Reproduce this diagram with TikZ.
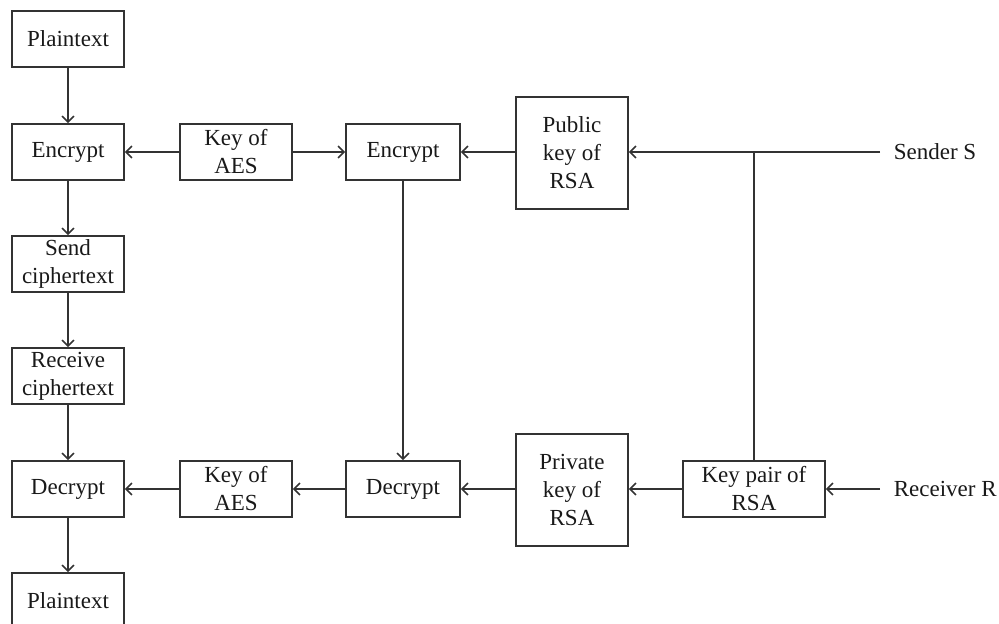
\documentclass[tikz,border=0pt]{standalone}
\usepackage{fontspec}
\setmainfont{Liberation Serif}
\usetikzlibrary{arrows.meta}
\begin{document}
\begin{tikzpicture}[x=1pt,y=-1pt,
  line width=1.6pt,
  color=black!80,
  blk/.style={draw, rectangle, inner sep=0pt, align=center,
    text=black!90, font=\fontsize{23}{28}\selectfont},
  sq/.style={blk, minimum width=112pt, minimum height=56pt},
  tall/.style={blk, minimum width=112pt, minimum height=112pt},
  lbl/.style={anchor=west, inner sep=0pt, text=black!90, font=\fontsize{23}{28}\selectfont},
  arr/.style={-{Straight Barb[length=6pt,width=12pt,line width=1.6pt]}}
]
\useasboundingbox (0,0) rectangle (999,624);
\clip (0,0) rectangle (999,624);

% left column: message flow
\node[sq] (p1)   at (68,39)  {Plaintext};
\node[sq] (enc1) at (68,152) {Encrypt};
\node[sq] (send) at (68,264) {Send\\ciphertext};
\node[sq] (recv) at (68,376) {Receive\\ciphertext};
\node[sq] (dec1) at (68,489) {Decrypt};
\node[sq] (p2)   at (68,601) {Plaintext};

% AES keys
\node[sq] (kaes1) at (236,152) {Key of\\AES};
\node[sq] (kaes2) at (236,489) {Key of\\AES};

% key encryption / decryption
\node[sq, minimum width=114pt] (enc2) at (403,152) {Encrypt};
\node[sq, minimum width=114pt] (dec2) at (403,489) {Decrypt};

% RSA keys
\node[tall] (pub)  at (572,153) {Public\\key of\\RSA};
\node[tall] (priv) at (572,490) {Private\\key of\\RSA};
\node[sq, minimum width=142pt] (kp) at (754,489) {Key pair of\\RSA};

% parties
\coordinate (sendpt) at (880,152);
\coordinate (recvpt) at (880,489);
\node[lbl] (sname) at (893,152) {Sender S};
\node[lbl] (rname) at (893,489) {Receiver R};

% message path
\draw[arr] (p1) -- (enc1);
\draw[arr] (enc1) -- (send);
\draw[arr] (send) -- (recv);
\draw[arr] (recv) -- (dec1);
\draw[arr] (dec1) -- (p2);

% encryption side
\draw[arr] (kaes1) -- (enc1);
\draw[arr] (kaes1) -- (enc2);
\draw[arr] (pub.west |- enc2) -- (enc2);
\draw[arr] (sendpt) -- (pub.east |- sendpt);
\draw (kp.north) -- (kp.north |- sendpt);
\draw[arr] (enc2) -- (dec2);

% decryption side
\draw[arr] (recvpt) -- (kp);
\draw[arr] (kp) -- (priv.east |- kp);
\draw[arr] (priv.west |- dec2) -- (dec2);
\draw[arr] (dec2) -- (kaes2);
\draw[arr] (kaes2) -- (dec1);
\end{tikzpicture}
\end{document}
